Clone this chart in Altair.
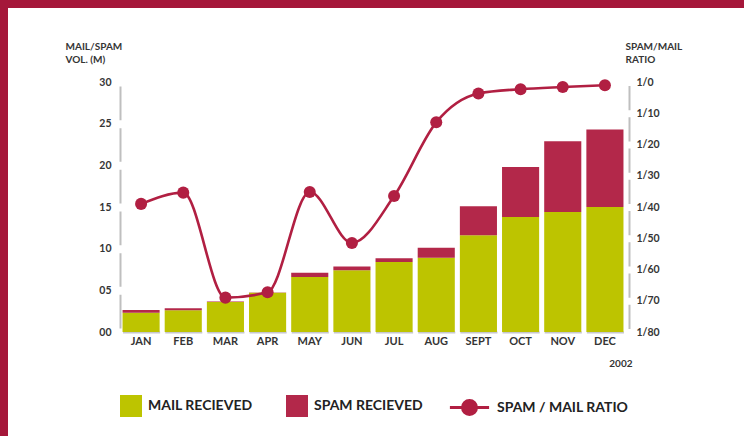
import altair as alt
import pandas as pd

# ---------------- data ----------------
months = ["JAN", "FEB", "MAR", "APR", "MAY", "JUN", "JUL", "AUG", "SEPT", "OCT", "NOV", "DEC"]
mail_received = [2.3, 2.6, 3.6, 4.7, 6.6, 7.4, 8.4, 8.9, 11.6, 13.8, 14.4, 15.0]
spam_received = [0.35, 0.25, 0.05, 0.05, 0.5, 0.45, 0.45, 1.2, 3.5, 6.0, 8.5, 9.3]
spam_mail_ratio = [39.0, 35.4, 69.0, 67.3, 35.2, 51.5, 36.5, 12.9, 3.7, 2.3, 1.6, 1.05]
bar_series = ["MAIL RECIEVED", "SPAM RECIEVED"]
ratio_series = "SPAM / MAIL RATIO"
left_ticks = [0, 5, 10, 15, 20, 25, 30]
right_ticks = [0, 10, 20, 30, 40, 50, 60, 70, 80]
left_title = ["MAIL/SPAM", "VOL. (M)"]
right_title = ["SPAM/MAIL", "RATIO"]
year_label = "2002"

# ---------------- styles ----------------
GREEN = "#bdc400"
SPAM = "#b3284a"
LINE = "#b11f42"
FRAME = "#a5173a"
TEXT = "#353535"
AXIS_GREY = "#c6c6ce"
FONT = "Lato"

bars_df = pd.DataFrame({
    "month": months * 2,
    "series": [bar_series[0]] * len(months) + [bar_series[1]] * len(months),
    "value": mail_received + spam_received,
    "order": [0] * len(months) + [1] * len(months),
})
ratio_df = pd.DataFrame({"month": months, "ratio": spam_mail_ratio, "series": ratio_series})

W, H = 506, 250
step = W / 12.0
bar_w = step * 0.88
gap = step - bar_w

x_enc = alt.X(
    "month:N", sort=months,
    scale=alt.Scale(paddingInner=0.12, paddingOuter=0.06),
    axis=alt.Axis(
        title=year_label, labelAngle=0, ticks=False, grid=False,
        domainColor=AXIS_GREY, domainWidth=2,
        domainDash=[bar_w, gap], domainDashOffset=bar_w + gap / 2,
        labelPadding=3, labelFontSize=11,
        titleAlign="right", titleBaseline="middle", titleX=W + 6, titleY=31,
        titleFontSize=10,
    ),
)

left_spacing = H / 6.0
right_spacing = H / 8.0

bars = alt.Chart(bars_df).mark_bar().encode(
    x=x_enc,
    y=alt.Y(
        "value:Q", stack="zero",
        scale=alt.Scale(domain=[0, 30], nice=False),
        axis=alt.Axis(
            values=left_ticks,
            labelExpr="datum.value < 10 ? '0' + datum.value : '' + datum.value",
            ticks=False, grid=False,
            domainColor="#bfbfbf", domainWidth=2,
            domainDash=[left_spacing - 8, 8], domainDashOffset=left_spacing - 4,
            labelPadding=9,
            title=left_title, titleAngle=0, titleAlign="left", titleBaseline="top",
            titleX=-55, titleY=-41, titleLineHeight=13.7, titleFontSize=10,
        ),
    ),
    color=alt.Color(
        "series:N",
        scale=alt.Scale(domain=bar_series, range=[GREEN, SPAM]),
        legend=alt.Legend(
            title=None, orient="none", legendX=0, legendY=313, direction="horizontal",
            symbolType="square", symbolSize=484, symbolStrokeWidth=0, symbolOpacity=1,
            labelFontSize=14, labelOffset=6, columnPadding=33,
        ),
    ),
    order=alt.Order("order:Q"),
)

ratio_y_scale = alt.Scale(domain=[0, 80], reverse=True, nice=False)

line = alt.Chart(ratio_df).mark_line(interpolate="monotone", strokeWidth=2.6).encode(
    x=alt.X("month:N", sort=months),
    y=alt.Y(
        "ratio:Q", scale=ratio_y_scale,
        axis=alt.Axis(
            orient="right", values=right_ticks, labelExpr="'1/' + datum.value",
            offset=3, ticks=False, grid=False,
            domainColor="#bfbfbf", domainWidth=2,
            domainDash=[right_spacing - 7, 7], domainDashOffset=right_spacing - 3.5,
            labelPadding=7,
            title=right_title, titleAngle=0, titleAlign="left", titleBaseline="top",
            titleX=-4, titleY=-41, titleLineHeight=13.7, titleFontSize=10,
        ),
    ),
    stroke=alt.Stroke(
        "series:N",
        scale=alt.Scale(domain=[ratio_series], range=[LINE]),
        legend=alt.Legend(
            title=None, orient="none", legendX=341, legendY=317,
            symbolType="M-2.8,0L2.8,0M1,0A1,1,0,1,1,-1,0A1,1,0,1,1,1,0Z",
            symbolSize=196, symbolStrokeWidth=3, symbolFillColor=LINE,
            labelFontSize=14, labelOffset=19,
        ),
    ),
)

points = alt.Chart(ratio_df).mark_circle(size=145, opacity=1, color=LINE).encode(
    x=alt.X("month:N", sort=months),
    y=alt.Y("ratio:Q", scale=ratio_y_scale, axis=None),
)

chart = (
    alt.layer(bars, line, points)
    .resolve_scale(y="independent")
    .properties(
        width=W, height=H,
        padding={"left": 112, "top": 74, "right": 118, "bottom": 104},
        autosize=alt.AutoSizeParams(type="none"),
        background="white",
    )
    .configure_view(stroke=None)
    .configure_axis(
        labelFont=FONT, labelFontWeight="bold", labelColor=TEXT, labelFontSize=10.5,
        titleFont=FONT, titleFontWeight="bold", titleColor=TEXT,
    )
    .configure_legend(
        labelFont=FONT, labelFontWeight="bold", labelColor="#222222", labelLimit=300,
    )
)

chart.save(
    "out.html",
    embed_options={
        "renderer": "svg",
        "actions": False,
        "defaultStyle": "html,body{overflow:hidden;} body{margin:8px 0 0 8px; background:" + FRAME + ";}",
    },
)
